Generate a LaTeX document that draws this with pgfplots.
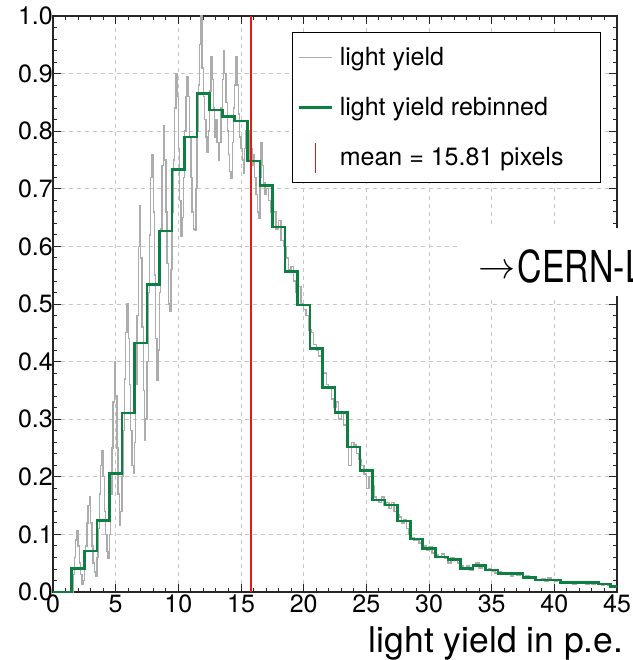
\documentclass[border=0pt]{standalone}
\usepackage{fontspec}
\setmainfont{TeX Gyre Heros}
\usepackage{graphicx}
\usepackage{pgfplots}
\usepackage{pgfplotstable}
\pgfplotsset{compat=1.18}

\definecolor{lyGrey}{RGB}{172,172,172}
\definecolor{lyGreen}{RGB}{12,128,64}
\definecolor{meanred}{RGB}{230,25,25}

% legend glyphs: horizontal line sample and vertical marker
\pgfplotsset{
  hline legend/.style={legend image code/.code={%
    \path[draw=none,fill=none] (0pt,-1pt) rectangle (39pt,1pt);
    \draw[##1] (6pt,0pt) -- (39pt,0pt);}},
  mean glyph/.style={legend image code/.code={%
    \path[draw=none,fill=none] (0pt,-1pt) rectangle (39pt,1pt);
    \draw[##1] (23pt,-15pt) -- (23pt,15pt);}},
}

% fine-binned light yield spectrum (bin start, normalised content)
\pgfplotstableread{
x y
0.0 0
1.6 0.03
1.7 0.06
1.8 0.09
1.9 0.106
2.0 0.08
2.1 0.05
2.2 0.03
2.3 0.014
2.4 0.02
2.5 0.045
2.6 0.08
2.7 0.12
2.8 0.15
2.9 0.165
3.0 0.12
3.1 0.08
3.2 0.05
3.3 0.035
3.4 0.027
3.5 0.06
3.6 0.11
3.7 0.17
3.8 0.22
3.9 0.245
4.0 0.2
4.1 0.14
4.2 0.1
4.3 0.07
4.4 0.058
4.5 0.1
4.6 0.17
4.7 0.25
4.8 0.33
4.9 0.40
5.0 0.34
5.1 0.25
5.2 0.17
5.3 0.116
5.4 0.14
5.5 0.2
5.6 0.28
5.7 0.37
5.8 0.45
5.9 0.50
6.0 0.44
6.1 0.36
6.2 0.28
6.3 0.22
6.4 0.206
6.5 0.26
6.6 0.36
6.7 0.48
6.8 0.6
6.9 0.67
7.0 0.58
7.1 0.46
7.2 0.35
7.3 0.264
7.4 0.3
7.5 0.4
7.6 0.52
7.7 0.62
7.8 0.72
7.9 0.76
8.0 0.66
8.1 0.55
8.2 0.44
8.3 0.368
8.4 0.42
8.5 0.52
8.6 0.63
8.7 0.74
8.8 0.81
8.9 0.75
9.0 0.66
9.1 0.57
9.2 0.5
9.3 0.487
9.4 0.56
9.5 0.66
9.6 0.75
9.7 0.84
9.8 0.9
9.9 0.86
10.0 0.77
10.1 0.68
10.2 0.618
10.3 0.65
10.4 0.72
10.5 0.8
10.6 0.86
10.7 0.895
10.8 0.86
10.9 0.79
11.0 0.72
11.1 0.66
11.2 0.63
11.3 0.628
11.4 0.7
11.5 0.8
11.6 0.88
11.7 0.95
11.8 1.0
11.9 0.91
12.0 0.86
12.1 0.82
12.2 0.79
12.3 0.764
12.4 0.8
12.5 0.87
12.6 0.93
12.7 0.89
12.8 0.84
12.9 0.79
13.0 0.82
13.1 0.78
13.2 0.75
13.3 0.78
13.4 0.84
13.5 0.89
13.6 0.94
13.7 0.9
13.8 0.85
13.9 0.8
14.0 0.76
14.1 0.73
14.2 0.718
14.3 0.78
14.4 0.84
14.5 0.88
14.6 0.93
14.7 0.88
14.8 0.83
14.9 0.79
15.0 0.77
15.1 0.75
15.2 0.727
15.3 0.77
15.4 0.8
15.5 0.79
15.6 0.75
15.7 0.8
15.8 0.77
15.9 0.74
16.0 0.76
16.1 0.72
16.2 0.69
16.3 0.66
16.4 0.649
16.5 0.72
16.6 0.78
16.7 0.74
16.8 0.71
16.9 0.69
17.0 0.70
17.2 0.68
17.4 0.66
17.6 0.66
17.8 0.63
18.0 0.645
18.2 0.61
18.4 0.6
18.6 0.58
18.8 0.56
19.0 0.565
19.2 0.54
19.4 0.52
19.6 0.53
19.8 0.50
20.0 0.49
20.2 0.48
20.4 0.455
20.6 0.45
20.8 0.43
21.0 0.42
21.2 0.41
21.4 0.385
21.6 0.38
21.8 0.36
22.0 0.355
22.2 0.335
22.4 0.32
22.6 0.33
22.8 0.30
23.0 0.31
23.2 0.29
23.4 0.28
23.6 0.22
23.8 0.26
24.0 0.255
24.2 0.24
24.4 0.23
24.6 0.22
24.8 0.205
25.0 0.18
25.2 0.2
25.4 0.185
25.6 0.165
25.8 0.16
26.0 0.155
26.2 0.165
26.4 0.15
26.6 0.155
26.8 0.145
27.0 0.155
27.2 0.14
27.4 0.135
27.6 0.13
27.8 0.12
28.0 0.125
28.2 0.11
28.4 0.1
28.6 0.095
28.8 0.09
29.0 0.09
29.2 0.085
29.4 0.08
29.6 0.08
29.8 0.072
30.0 0.078
30.25 0.068
30.5 0.064
30.75 0.06
31.0 0.066
31.25 0.058
31.5 0.05
31.75 0.06
32.0 0.055
32.25 0.05
32.5 0.045
32.75 0.04
33.0 0.045
33.25 0.038
33.5 0.048
33.75 0.05
34.0 0.042
34.25 0.044
34.5 0.038
34.75 0.04
35.0 0.036
35.25 0.033
35.5 0.035
35.75 0.03
36.0 0.034
36.25 0.03
36.5 0.028
36.75 0.034
37.0 0.029
37.25 0.031
37.5 0.026
37.75 0.028
38.0 0.024
38.25 0.027
38.5 0.022
38.75 0.02
39.0 0.023
39.25 0.019
39.5 0.024
39.75 0.02
40.0 0.018
40.25 0.022
40.5 0.017
40.75 0.015
41.0 0.018
41.25 0.016
41.5 0.014
41.75 0.017
42.0 0.015
42.25 0.018
42.5 0.014
42.75 0.016
43.0 0.013
43.25 0.017
43.5 0.015
43.75 0.012
44.0 0.014
44.25 0.012
44.5 0.011
44.75 0.01
45.0 0.01
}\greydata

% rebinned spectrum, one p.e. per bin (bin centre, content)
\pgfplotstableread{
x y
0 0
1 0
2 0.041
3 0.071
4 0.124
5 0.206
6 0.311
7 0.432
8 0.534
9 0.627
10 0.734
11 0.790
12 0.865
13 0.837
14 0.826
15 0.818
16 0.748
17 0.706
18 0.634
19 0.556
20 0.498
21 0.423
22 0.355
23 0.312
24 0.252
25 0.211
26 0.160
27 0.151
28 0.123
29 0.092
30 0.076
31 0.061
32 0.056
33 0.041
34 0.046
35 0.038
36 0.032
37 0.032
38 0.025
39 0.021
40 0.021
41 0.016
42 0.016
43 0.016
44 0.014
45 0.010
}\greendata

% mean of the spectrum
\pgfplotstableread{
x y
15.81 0
15.81 1
}\meandata

\begin{document}
\begin{tikzpicture}
\useasboundingbox (-53pt,-68pt) rectangle (579pt,592pt);
\begin{axis}[
  at={(0pt,0pt)}, anchor=south west,
  scale only axis, width=564pt, height=576pt,
  xmin=0, xmax=45, ymin=0, ymax=1,
  clip=false,
  xtick={0,5,10,15,20,25,30,35,40,45},
  ytick={0,0.1,0.2,0.3,0.4,0.5,0.6,0.7,0.8,0.9,1},
  minor x tick num=4, minor y tick num=4,
  tick align=inside,
  major tick length=8pt, minor tick length=4pt,
  tick style={line width=0.9pt, black!85},
  axis line style={line width=1.2pt, black!85},
  grid=major,
  major grid style={line width=0.7pt, gray!45, dash pattern=on 4pt off 4pt},
  /pgf/number format/assume math mode=true,
  ticklabel style={font=\fontsize{25}{30}\selectfont, inner sep=0pt},
  xticklabel style={yshift=-3pt},
  yticklabel style={/pgf/number format/.cd, fixed, fixed zerofill, precision=1, /tikz/.cd},
  xlabel={light yield in p.e.},
  xlabel style={at={(rel axis cs:1,0)}, anchor=base east, xshift=6.6pt, yshift=-60pt,
    inner sep=0pt, font=\fontsize{35.5}{42}\selectfont},
  legend cell align=left,
  legend style={at={(rel axis cs:0.972,0.972)}, anchor=north east,
    draw=black, line width=0.8pt, fill=white,
    inner xsep=0pt, inner ysep=0pt,
    font=\fontsize{25}{30}\selectfont,
    nodes={inner sep=0pt, minimum height=50pt},
    column sep=7pt},
]
\addplot[const plot mark left, draw=lyGrey, line width=1.4pt, mark=none, hline legend]
  table {\greydata};
\addlegendentry{\makebox[261pt][l]{light yield}}
\addplot[const plot mark mid, draw=lyGreen, line width=2.6pt, mark=none, hline legend]
  table {\greendata};
\addlegendentry{\makebox[261pt][l]{light yield rebinned}}
\addplot[sharp plot, draw=meanred, line width=1.7pt, mark=none, mean glyph]
  table {\meandata};
\addlegendentry{\makebox[261pt][l]{mean = 15.81 pixels}}
\end{axis}
\fill[white] (404pt,296pt) rectangle (640pt,364pt);
\node[inner sep=0pt, anchor=base west] at (425.7pt,309pt)
  {\raisebox{4.2pt}{\scalebox{3.7}{$\rightarrow$}}\hspace{2pt}%
   \scalebox{0.77}[1]{\fontsize{44}{50}\selectfont CERN-L}};
\end{tikzpicture}
\end{document}
